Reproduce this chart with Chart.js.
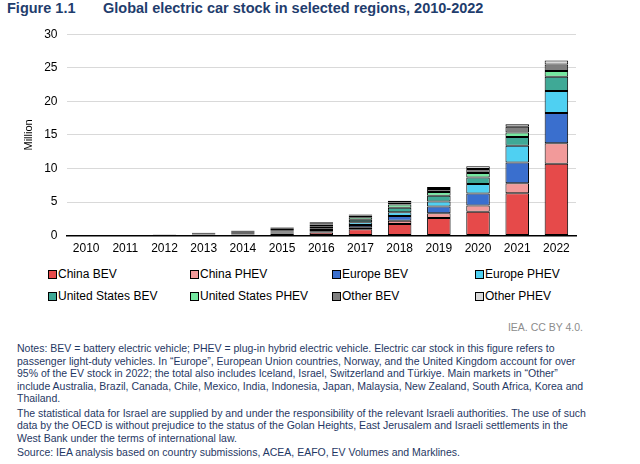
<!DOCTYPE html>
<html>
<head>
<meta charset="utf-8">
<script src="https://cdn.jsdelivr.net/npm/chart.js@4.4.0/dist/chart.umd.min.js"></script>
<style>
  html, body { margin:0; padding:0; background:#fff; width:640px; height:464px; overflow:hidden; font-family:"Liberation Sans", Arial, sans-serif; }
  #title { position:absolute; left:7px; top:0px; font-size:14.5px; font-weight:bold; color:#1f3d6d; white-space:nowrap; }
  #title .num { display:inline-block; width:96px; }
  #wrap { position:absolute; left:0; top:18px; width:600px; height:244px; }
  #legend { position:absolute; left:48px; top:267px; width:580px; font-size:12px; color:#000; }
  .li { position:absolute; white-space:nowrap; display:flex; align-items:center; }
  .sw { width:7px; height:7px; border:1px solid #000; margin-right:1px; }
  #credit { position:absolute; right:57px; top:321px; font-size:10.5px; color:#8c8c8c; }
  #notes { position:absolute; left:17px; top:342px; font-size:10.5px; line-height:12.6px; color:#1f3864; white-space:nowrap; }
  #notes p { margin:0 0 1.6px 0; }
</style>
</head>
<body>
<div id="title"><span class="num">Figure 1.1</span>Global electric car stock in selected regions, 2010-2022</div>
<div id="wrap"><canvas id="c"></canvas></div>
<div id="legend"></div>
<div id="credit">IEA. CC BY 4.0.</div>
<div id="notes">
<p>Notes: BEV = battery electric vehicle; PHEV = plug-in hybrid electric vehicle. Electric car stock in this figure refers to<br>passenger light-duty vehicles. In “Europe”, European Union countries, Norway, and the United Kingdom account for over<br>95% of the EV stock in 2022; the total also includes Iceland, Israel, Switzerland and Türkiye. Main markets in “Other”<br>include Australia, Brazil, Canada, Chile, Mexico, India, Indonesia, Japan, Malaysia, New Zealand, South Africa, Korea and<br>Thailand.</p>
<p>The statistical data for Israel are supplied by and under the responsibility of the relevant Israeli authorities. The use of such<br>data by the OECD is without prejudice to the status of the Golan Heights, East Jerusalem and Israeli settlements in the<br>West Bank under the terms of international law.</p>
<p>Source: IEA analysis based on country submissions, ACEA, EAFO, EV Volumes and Marklines.</p>
</div>
<script>
const years = ['2010','2011','2012','2013','2014','2015','2016','2017','2018','2019','2020','2021','2022'];
const yTicks = [0,5,10,15,20,25,30];

const chinaBEV   = [0.002,0.005,0.01,0.02,0.08,0.23,0.48,0.95,1.73,2.63,3.57,6.3,10.7];
const chinaPHEV  = [0.000,0.001,0.002,0.01,0.03,0.08,0.17,0.28,0.50,0.70,0.90,1.5,3.05];
const europeBEV  = [0.002,0.010,0.02,0.05,0.10,0.15,0.20,0.35,0.70,1.00,1.80,3.1,4.5];
const europePHEV = [0.000,0.002,0.01,0.04,0.08,0.15,0.23,0.40,0.55,0.75,1.40,2.5,3.3];
const usBEV      = [0.001,0.010,0.03,0.07,0.13,0.20,0.30,0.38,0.65,0.85,1.00,1.3,2.1];
const usPHEV     = [0.000,0.010,0.04,0.10,0.15,0.20,0.27,0.38,0.50,0.55,0.65,0.65,0.85];
const otherBEV   = [0.010,0.020,0.06,0.10,0.15,0.17,0.20,0.25,0.30,0.45,0.60,0.85,1.0];
const otherPHEV  = [0.000,0.001,0.01,0.02,0.05,0.07,0.13,0.15,0.25,0.30,0.40,0.4,0.6];

const seriesNames = ['China BEV','China PHEV','Europe BEV','Europe PHEV','United States BEV','United States PHEV','Other BEV','Other PHEV'];
const seriesData = [chinaBEV, chinaPHEV, europeBEV, europePHEV, usBEV, usPHEV, otherBEV, otherPHEV];
const seriesColors = ['#e64a4a','#f29a9a','#3a6fce','#4fd0f2','#3fa996','#74e8a0','#7f7f7f','#d9d9d9'];

const datasets = seriesNames.map((n,i)=>({
  label:n, data:seriesData[i], backgroundColor:seriesColors[i],
  borderColor:'#000', borderWidth:1, borderSkipped:false,
  barPercentage:0.6, categoryPercentage:1.0
}));

new Chart(document.getElementById('c'), {
  type:'bar',
  data:{ labels:years, datasets },
  options:{
    responsive:true, maintainAspectRatio:false, animation:false,
    layout:{ padding:{ left:22, right:24, top:8, bottom:0 } },
    plugins:{ legend:{display:false}, tooltip:{enabled:false} },
    scales:{
      x:{ stacked:true,
          grid:{ display:false, drawTicks:false },
          border:{ display:true, color:'#000', width:1.5 },
          ticks:{ color:'#000', font:{family:'Liberation Sans', size:12}, padding:6 } },
      y:{ stacked:true, min:0, max:30,
          afterBuildTicks:(s)=>{ s.ticks = yTicks.map(v=>({value:v})); },
          grid:{ color:'#d9d9d9', lineWidth:1, drawTicks:false },
          border:{ display:false },
          ticks:{ color:'#000', font:{family:'Liberation Sans', size:12}, padding:9 },
          title:{ display:true, text:'Million', color:'#000', font:{family:'Liberation Sans', size:11}, padding:{top:0,bottom:0} } }
    }
  }
});

const leg = document.getElementById('legend');
const colX = [0,142,284,427];
seriesNames.forEach((n,i)=>{
  const d = document.createElement('div');
  d.className='li';
  d.style.left = colX[i%4]+'px';
  d.style.top = (Math.floor(i/4)*22)+'px';
  d.innerHTML = '<span class="sw" style="background:'+seriesColors[i]+'"></span>'+n;
  leg.appendChild(d);
});
</script>
</body>
</html>
